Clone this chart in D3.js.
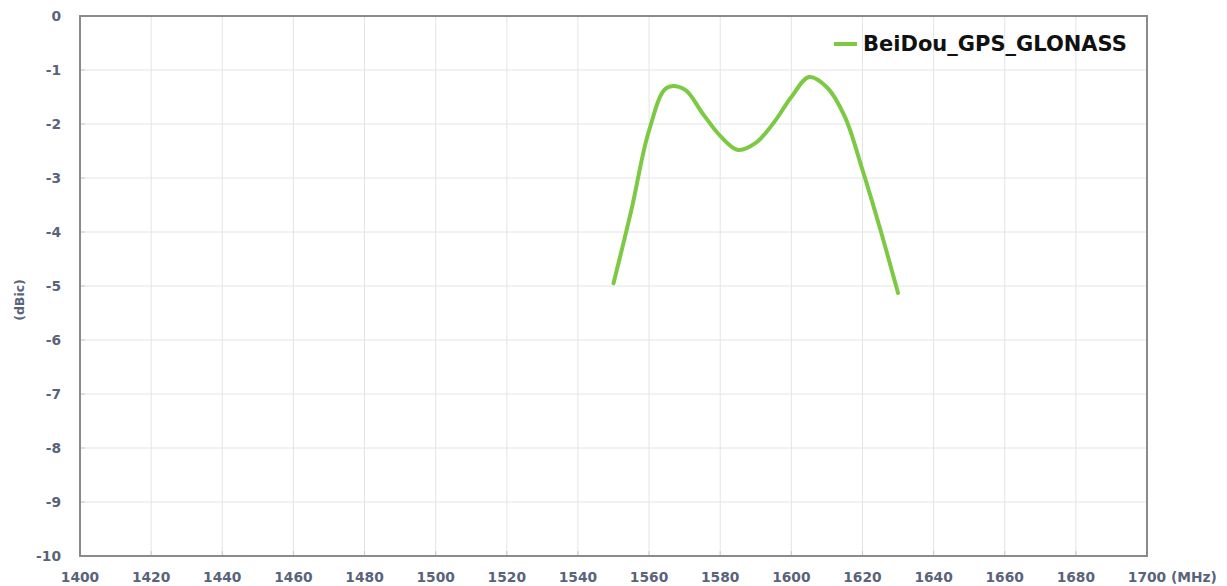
<!DOCTYPE html>
<html lang="en">
<head>
<meta charset="utf-8">
<title>BeiDou_GPS_GLONASS</title>
<script src="https://d3js.org/d3.v7.min.js"></script>
<style>
    body { margin: 0; background: #fff; }
    .tick-label { font-family: "DejaVu Sans", Verdana, sans-serif; font-weight: bold; font-size: 13.8px; fill: #59637a; }
    .legend { font-family: "DejaVu Sans", Verdana, sans-serif; font-weight: bold; font-size: 21px; fill: #111; }
</style>
</head>
<body>
<script>
    // frequency (MHz) and gain (dBic)
    var freq = [1550, 1555, 1560, 1565, 1570, 1575, 1580, 1585, 1590, 1595, 1600, 1605, 1610, 1615, 1620, 1625, 1630];
    var gain = [-4.95, -3.6, -2.12, -1.33, -1.36, -1.8, -2.22, -2.48, -2.35, -1.98, -1.5, -1.13, -1.32, -1.86, -2.85, -3.95, -5.13];
    var xTicks = [1400, 1420, 1440, 1460, 1480, 1500, 1520, 1540, 1560, 1580, 1600, 1620, 1640, 1660, 1680, 1700];
    var yTicks = [0, -1, -2, -3, -4, -5, -6, -7, -8, -9, -10];
    var seriesName = "BeiDou_GPS_GLONASS";

    var w = 1227, h = 586;
    var pLeft = 80, pRight = 1147, pTop = 16, pBottom = 556;

    var svg = d3.select("body").append("svg")
        .attr("width", w)
        .attr("height", h);

    var x = d3.scaleLinear().domain([1400, 1700]).range([pLeft, pRight]);
    var y = d3.scaleLinear().domain([-10, 0]).range([pBottom, pTop]);

    // grid
    svg.append("g").selectAll("line")
        .data(xTicks)
        .enter().append("line")
        .attr("x1", d => x(d)).attr("x2", d => x(d))
        .attr("y1", pTop).attr("y2", pBottom)
        .attr("stroke", "#e4e4e4").attr("stroke-width", 1);
    svg.append("g").selectAll("line")
        .data(yTicks)
        .enter().append("line")
        .attr("x1", pLeft).attr("x2", pRight)
        .attr("y1", d => y(d)).attr("y2", d => y(d))
        .attr("stroke", "#e4e4e4").attr("stroke-width", 1);

    // small inner ticks
    svg.append("g").selectAll("line")
        .data(yTicks)
        .enter().append("line")
        .attr("x1", pLeft).attr("x2", pLeft + 5)
        .attr("y1", d => y(d)).attr("y2", d => y(d))
        .attr("stroke", "#c8c8c8");
    svg.append("g").selectAll("line")
        .data(xTicks)
        .enter().append("line")
        .attr("x1", d => x(d)).attr("x2", d => x(d))
        .attr("y1", pBottom).attr("y2", pBottom - 5)
        .attr("stroke", "#c8c8c8");

    // frame
    svg.append("rect")
        .attr("x", pLeft).attr("y", pTop)
        .attr("width", pRight - pLeft).attr("height", pBottom - pTop)
        .attr("fill", "none")
        .attr("stroke", "#8a8a8a")
        .attr("stroke-width", 2);

    // tick labels
    svg.append("g").selectAll("text")
        .data(yTicks)
        .enter().append("text")
        .attr("class", "tick-label")
        .attr("x", 61)
        .attr("y", d => y(d))
        .attr("dy", "0.36em")
        .attr("text-anchor", "end")
        .text(d => d);
    svg.append("g").selectAll("text")
        .data(xTicks)
        .enter().append("text")
        .attr("class", "tick-label")
        .attr("x", d => x(d))
        .attr("y", 582)
        .attr("text-anchor", "middle")
        .text(d => d);
    svg.append("text")
        .attr("class", "tick-label")
        .attr("x", x(1700) + 24)
        .attr("y", 582)
        .text("(MHz)");

    svg.append("text")
        .attr("class", "tick-label")
        .attr("transform", "translate(24,300) rotate(-90)")
        .attr("text-anchor", "middle")
        .style("font-size", "12.5px")
        .text("(dBic)");

    // the curve
    var pts = freq.map((f, i) => [f, gain[i]]);
    var line = d3.line()
        .x(d => x(d[0]))
        .y(d => y(d[1]))
        .curve(d3.curveCatmullRom.alpha(0.5));
    svg.append("path")
        .datum(pts)
        .attr("d", line)
        .attr("fill", "none")
        .attr("stroke", "#7cc943")
        .attr("stroke-width", 4)
        .attr("stroke-linecap", "round");

    // legend
    svg.append("line")
        .attr("x1", 834).attr("x2", 857)
        .attr("y1", 44).attr("y2", 44)
        .attr("stroke", "#7cc943")
        .attr("stroke-width", 4);
    svg.append("text")
        .attr("class", "legend")
        .attr("x", 863)
        .attr("y", 51)
        .text(seriesName);
</script>
</body>
</html>
